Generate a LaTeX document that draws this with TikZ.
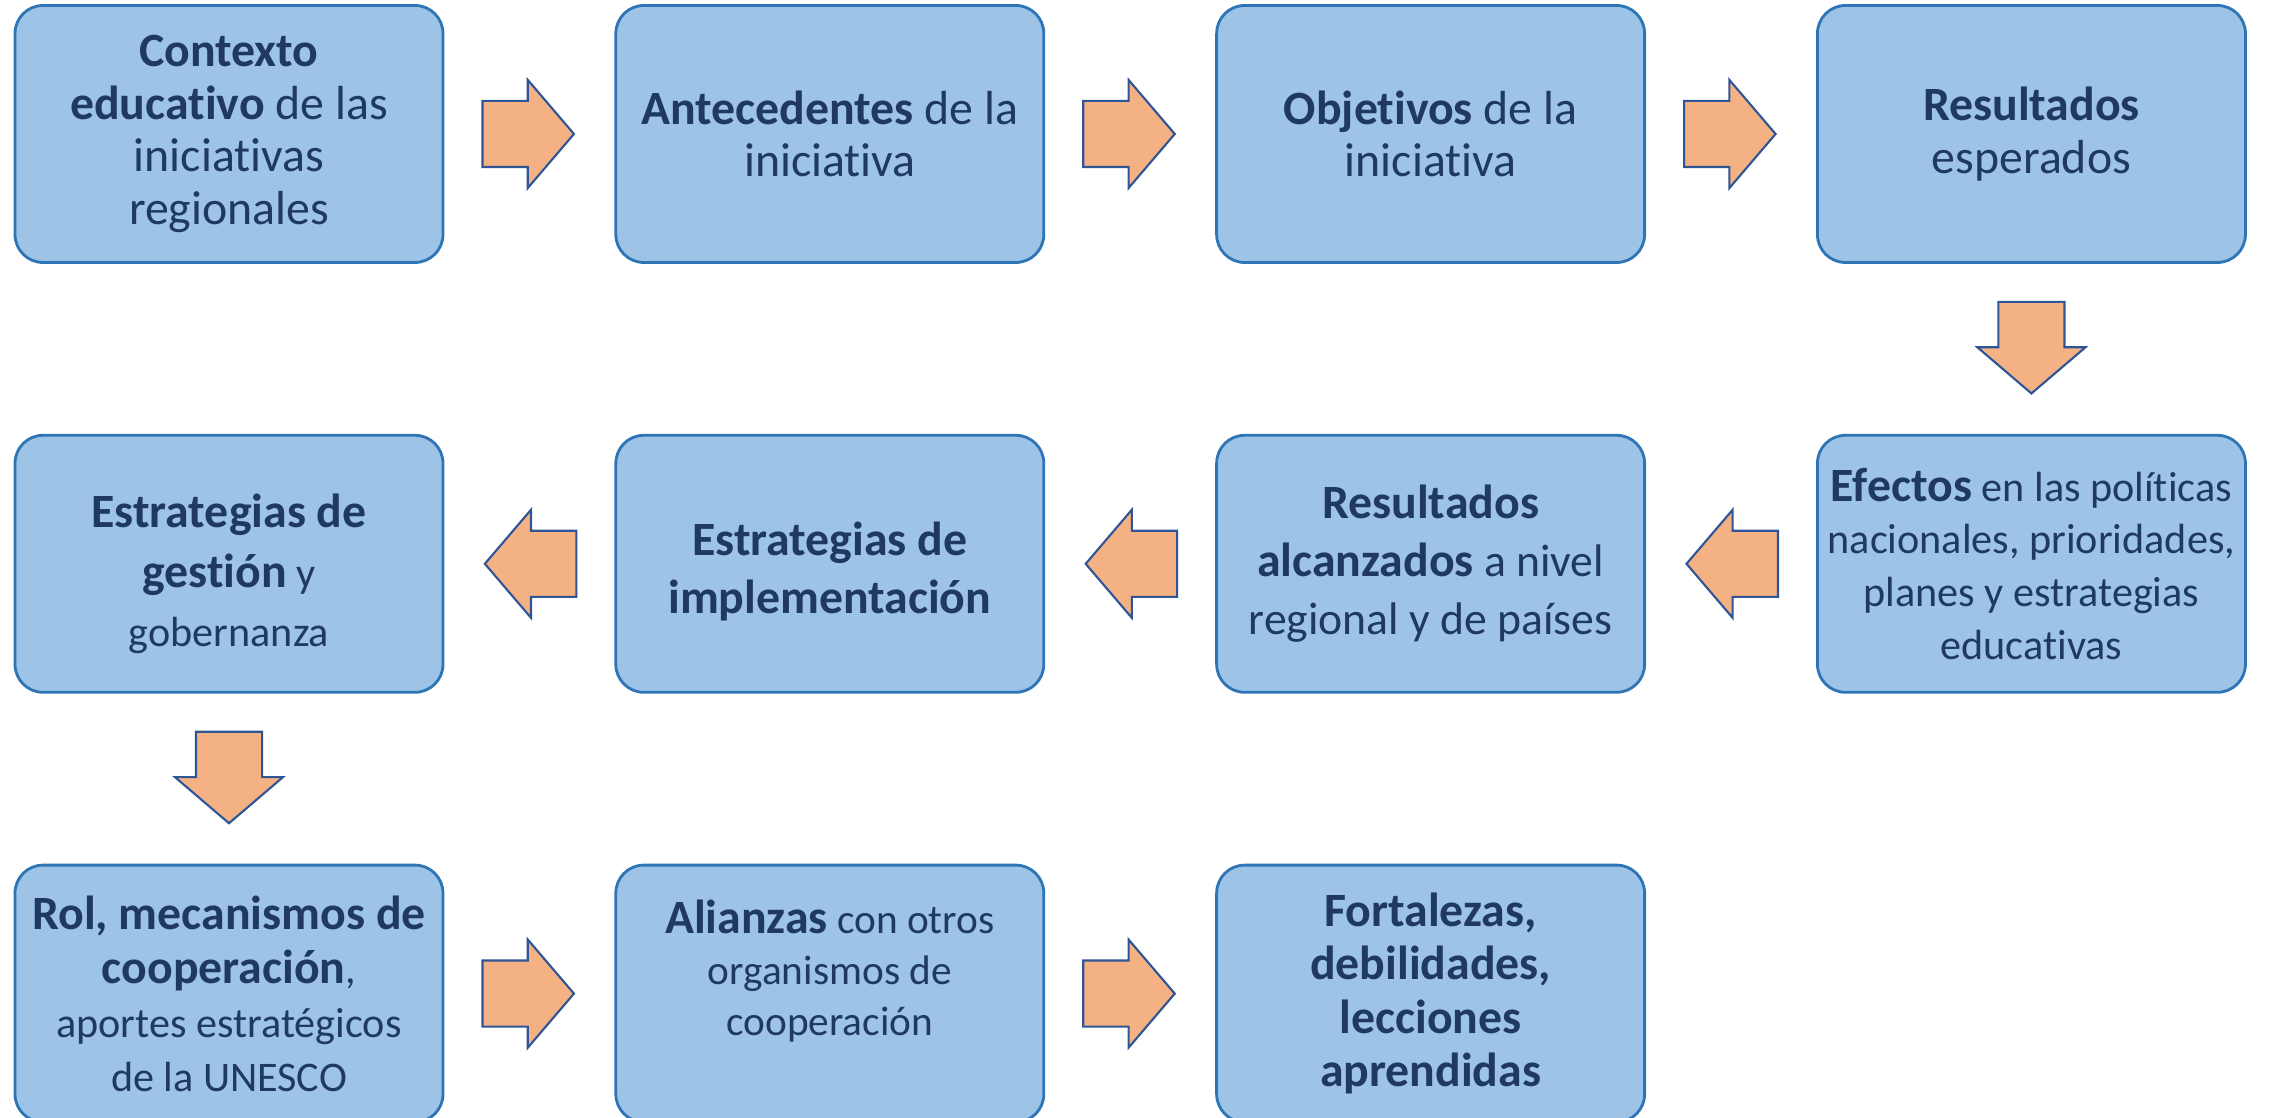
\documentclass[tikz,border=0pt]{standalone}
\usepackage{fontspec}
\setmainfont{Carlito}[Ligatures={NoCommon,NoContextual}, Contextuals=NoAlternate]
\usepackage{xcolor}
\usepackage{tikz}
\usetikzlibrary{shapes.arrows,positioning,calc}

\definecolor{boxfill}{HTML}{9DC3E6}
\definecolor{boxline}{HTML}{2E75B6}
\definecolor{arrfill}{HTML}{F4B183}
\definecolor{arrline}{HTML}{2F5597}
\definecolor{txtcol}{HTML}{1F3864}

% bold key words
\newcommand{\hi}[1]{{\fontsize{13.6}{15}\selectfont\bfseries #1}}

\begin{document}
\begin{tikzpicture}[
  box/.style={draw=boxline, fill=boxfill, line width=0.8pt, rounded corners=0.28cm,
    minimum height=2.57cm, minimum width=4.28cm, inner sep=0pt,
    align=center, text=txtcol, font=\fontsize{13.6}{15}\selectfont},
  blockarrow/.style={single arrow, draw=arrline, fill=arrfill, line width=0.6pt,
    minimum height=0.915cm, minimum width=1.06cm, single arrow head extend=0.21cm,
    single arrow tip angle=99, inner xsep=0pt, inner ysep=0.32cm, anchor=tail},
  node distance=1.70cm]
\useasboundingbox (0,0) rectangle (22.77,11.18);
\clip (0,0) rectangle (22.77,11.18);

% first row
\node[box] (b1) at (2.29,9.84) {\hi{Contexto}\\ \hi{educativo} de las\\ iniciativas\\ regionales};
\node[box, right=of b1] (b2) {\hi{Antecedentes} de la\\ iniciativa};
\node[box, right=of b2] (b3) {\hi{Objetivos} de la\\ iniciativa};
\node[box, right=of b3] (b4) {\hi{Resultados}\\ esperados};

% second row
\node[box, below=of b4, font=\fontsize{12}{15}\selectfont] (c4)
  {\hi{Efectos} en las políticas\\ nacionales, prioridades,\\ planes y estrategias\\ educativas};
\node[box, below=of b3, font=\fontsize{13}{16.5}\selectfont] (c3)
  {\hi{Resultados}\\ \hi{alcanzados} a nivel\\ regional y de países};
\node[box, below=of b2, font=\fontsize{13}{16.5}\selectfont] (c2)
  {\mbox{}\\[-2.8pt] \hi{Estrategias de}\\ \hi{implementación}};
\node[box, below=of b1, font=\fontsize{12}{17}\selectfont] (c1)
  {\mbox{}\\[-1.6pt] \hi{Estrategias de}\\ \hi{gestión} y\\ gobernanza};

% third row
\node[box, below=of c1, font=\fontsize{12}{15.4}\selectfont] (d1)
  {\hi{Rol, mecanismos de}\\ \hi{cooperación},\\ aportes estratégicos\\ de la UNESCO};
\node[box, below=of c2, font=\fontsize{11.75}{14.5}\selectfont] (d2)
  {\hi{Alianzas} con otros\\ organismos de\\ cooperación\\ \mbox{}};
\node[box, below=of c3, font=\fontsize{12}{15.2}\selectfont] (d3)
  {\hi{Fortalezas,}\\ \hi{debilidades,}\\ \hi{lecciones}\\ \hi{aprendidas}};

% arrows, tail a little way out of the box they leave
\node[blockarrow] (a12) at ($(b1.east)+(0.37,0)$) {};
\node[blockarrow] (a23) at ($(b2.east)+(0.37,0)$) {};
\node[blockarrow] (a34) at ($(b3.east)+(0.37,0)$) {};
\node[blockarrow, rotate=-90] (a44) at ($(b4.south)+(0,-0.37)$) {};
\node[blockarrow, rotate=180] (a43) at ($(c4.west)+(-0.37,0)$) {};
\node[blockarrow, rotate=180] (a32) at ($(c3.west)+(-0.37,0)$) {};
\node[blockarrow, rotate=180] (a21) at ($(c2.west)+(-0.37,0)$) {};
\node[blockarrow, rotate=-90] (a11) at ($(c1.south)+(0,-0.37)$) {};
\node[blockarrow] (d12) at ($(d1.east)+(0.37,0)$) {};
\node[blockarrow] (d23) at ($(d2.east)+(0.37,0)$) {};
\end{tikzpicture}
\end{document}
